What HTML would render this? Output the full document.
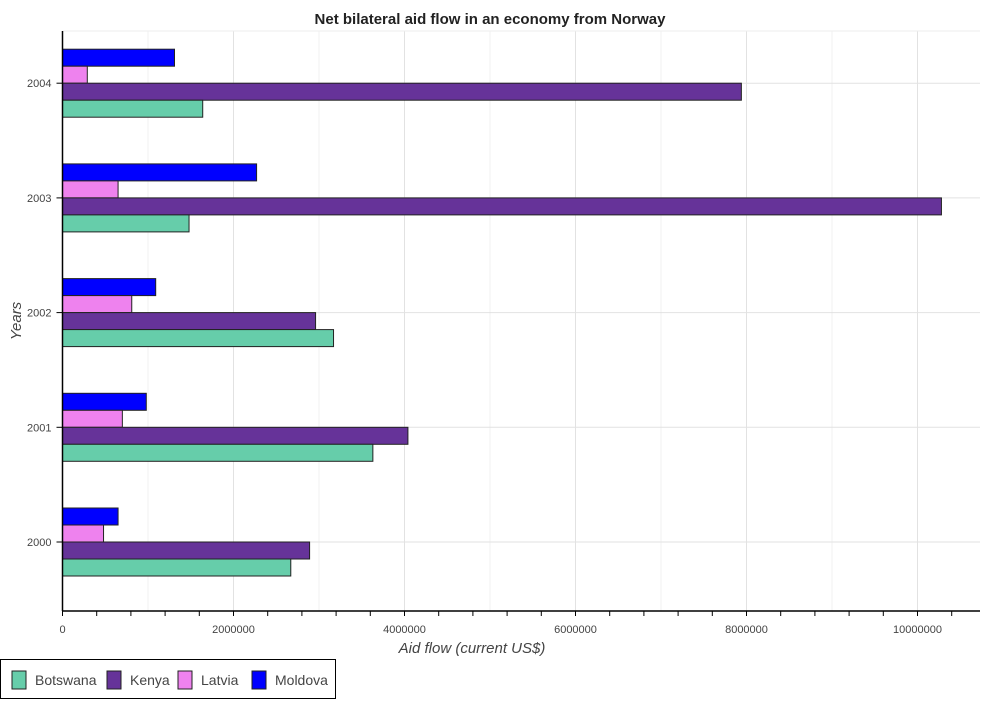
<!DOCTYPE html>
<html><head><meta charset="utf-8"><style>
body{margin:0;background:#fff;font-family:"Liberation Sans",sans-serif}
svg text{font-family:"Liberation Sans",sans-serif}
</style></head><body>
<svg id="chart" width="983" height="700" xmlns="http://www.w3.org/2000/svg">
<text x="490" y="24" text-anchor="middle" font-size="15" font-weight="bold" fill="#222">Net bilateral aid flow in an economy from Norway</text>
<g id="grid"></g><g id="bars"></g><g id="axes"></g>
<text x="472" y="653" text-anchor="middle" font-size="15" font-style="italic" fill="#444">Aid flow (current US$)</text>
<text transform="translate(21,321) rotate(-90)" text-anchor="middle" font-size="15" font-style="italic" fill="#444">Years</text>
<g>
<rect x="0.5" y="659.5" width="335" height="39" fill="#fff" stroke="#000"/>
<g id="legend"></g>
</g>
</svg>
<script>
const years=['2000','2001','2002','2003','2004'];
const botswana=[2670000,3630000,3170000,1480000,1640000];
const kenya=[2890000,4040000,2960000,10280000,7940000];
const latvia=[480000,700000,810000,650000,290000];
const moldova=[650000,980000,1090000,2270000,1310000];
const xTicks=[0,2000000,4000000,6000000,8000000,10000000];
const seriesNames=['Botswana','Kenya','Latvia','Moldova'];
const ns='http://www.w3.org/2000/svg';
const x0=62.5,ppm=85.5/1e6,plotTop=31,plotBottom=611,plotRight=980;
const X=v=>x0+v*ppm;
const Y=i=>542-i*114.7;
function mk(t,a,p){const e=document.createElementNS(ns,t);for(const k in a)e.setAttribute(k,a[k]);p.appendChild(e);return e;}
const grid=document.getElementById('grid'),bars=document.getElementById('bars'),axes=document.getElementById('axes');
for(let m=0;m<=10.8e6;m+=1e6){const gl=mk('line',{x1:X(m),x2:X(m),y1:plotTop,y2:plotBottom,stroke:m%2e6===0?'#e2e2e2':'#f0f0f0'},grid);

}
years.forEach((y,i)=>{const gl=mk('line',{x1:x0,x2:plotRight,y1:Y(i),y2:Y(i),stroke:'#e2e2e2'},grid);

});
mk('line',{x1:x0,x2:plotRight,y1:plotTop,y2:plotTop,stroke:'#eee'},grid);
const series=[moldova,latvia,kenya,botswana];
const colors=['#0000ff','#ee82ee','#663399','#66cdaa'];
const names=['moldova','latvia','kenya','botswana'];
const offs=[-25.5,-8.5,8.5,25.5];
years.forEach((y,i)=>{series.forEach((s,k)=>{
const r=mk('rect',{x:x0,y:Y(i)+offs[k]-8.5,width:X(s[i])-x0,height:17,fill:colors[k],stroke:'#222','stroke-width':1},bars);


});});
mk('line',{x1:x0,x2:x0,y1:plotTop,y2:plotBottom,stroke:'#000','stroke-width':1.5},axes);
mk('line',{x1:x0,x2:plotRight,y1:plotBottom,y2:plotBottom,stroke:'#000','stroke-width':1.5},axes);
for(let m=0;m<=10.8e6;m+=4e5){mk('line',{x1:X(m),x2:X(m),y1:plotBottom,y2:plotBottom+5,stroke:'#000'},axes);}
xTicks.forEach(v=>{const t=mk('text',{x:X(v),y:633,'text-anchor':'middle','font-size':11,fill:'#444'},axes);t.textContent=String(v);

});
years.forEach((y,i)=>{mk('line',{x1:x0-6,x2:x0,y1:Y(i),y2:Y(i),stroke:'#000'},axes);
const t=mk('text',{x:x0-11,y:Y(i)+4,'text-anchor':'end','font-size':11,fill:'#444'},axes);t.textContent=y;

});
const lg=document.getElementById('legend');
const lc=['#66cdaa','#663399','#ee82ee','#0000ff'];const lx=[12,107,178,252];
seriesNames.forEach((n,k)=>{
const r=mk('rect',{x:lx[k],y:671,width:14,height:18,fill:lc[k],stroke:'#222'},lg);


const t=mk('text',{x:lx[k]+23,y:685,'font-size':14,fill:'#444'},lg);t.textContent=n;

});
</script>
</body></html>
